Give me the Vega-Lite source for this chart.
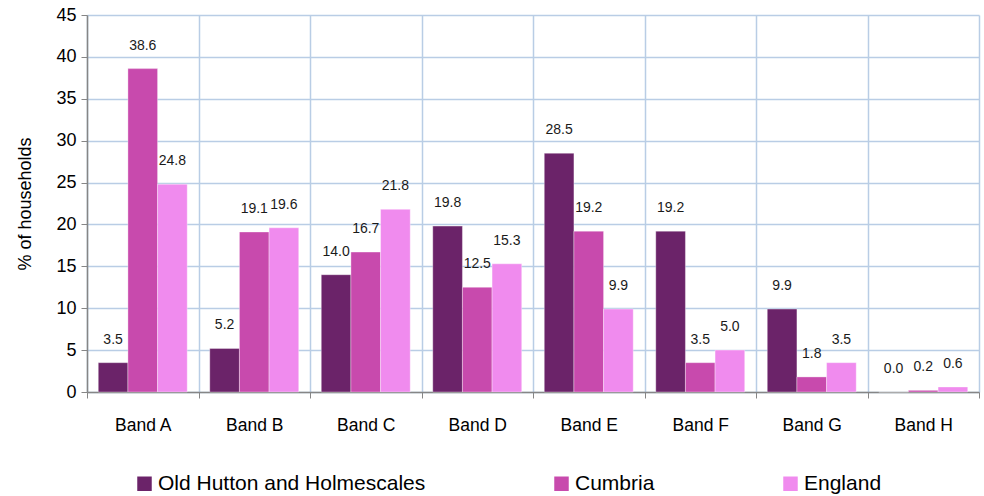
{
  "$schema": "https://vega.github.io/schema/vega-lite/v6.json",
  "width": 892,
  "height": 377,
  "autosize": {"type": "none"},
  "padding": {"left": 87, "top": 15, "right": 5, "bottom": 104},
  "background": "white",
  "config": {
    "font": "Liberation Sans",
    "view": {"stroke": null}
  },
  "data": {
    "values": [
      {"band": "Band A", "area": "Old Hutton and Holmescales", "value": 3.5},
      {"band": "Band A", "area": "Cumbria", "value": 38.6},
      {"band": "Band A", "area": "England", "value": 24.8},
      {"band": "Band B", "area": "Old Hutton and Holmescales", "value": 5.2},
      {"band": "Band B", "area": "Cumbria", "value": 19.1},
      {"band": "Band B", "area": "England", "value": 19.6},
      {"band": "Band C", "area": "Old Hutton and Holmescales", "value": 14.0},
      {"band": "Band C", "area": "Cumbria", "value": 16.7},
      {"band": "Band C", "area": "England", "value": 21.8},
      {"band": "Band D", "area": "Old Hutton and Holmescales", "value": 19.8},
      {"band": "Band D", "area": "Cumbria", "value": 12.5},
      {"band": "Band D", "area": "England", "value": 15.3},
      {"band": "Band E", "area": "Old Hutton and Holmescales", "value": 28.5},
      {"band": "Band E", "area": "Cumbria", "value": 19.2},
      {"band": "Band E", "area": "England", "value": 9.9},
      {"band": "Band F", "area": "Old Hutton and Holmescales", "value": 19.2},
      {"band": "Band F", "area": "Cumbria", "value": 3.5},
      {"band": "Band F", "area": "England", "value": 5.0},
      {"band": "Band G", "area": "Old Hutton and Holmescales", "value": 9.9},
      {"band": "Band G", "area": "Cumbria", "value": 1.8},
      {"band": "Band G", "area": "England", "value": 3.5},
      {"band": "Band H", "area": "Old Hutton and Holmescales", "value": 0.0},
      {"band": "Band H", "area": "Cumbria", "value": 0.2},
      {"band": "Band H", "area": "England", "value": 0.6}
    ]
  },
  "encoding": {
    "x": {
      "field": "band",
      "type": "nominal",
      "sort": null,
      "scale": {"paddingInner": 0, "paddingOuter": 0},
      "axis": {
        "title": null,
        "labelAngle": 0,
        "labelFontSize": 17.5,
        "labelColor": "#000000",
        "labelPadding": 18,
        "tickBand": "extent",
        "tickSize": 6,
        "tickColor": "#868686",
        "domainColor": "#868686",
        "domainWidth": 1.5,
        "grid": true,
        "gridColor": "#b9cde5",
        "gridWidth": 1.5
      }
    },
    "xOffset": {
      "field": "area",
      "type": "nominal",
      "sort": ["Old Hutton and Holmescales", "Cumbria", "England"],
      "scale": {"paddingInner": 0, "paddingOuter": 0.38}
    },
    "y": {
      "field": "value",
      "type": "quantitative",
      "scale": {"domain": [0, 45], "nice": false},
      "axis": {
        "title": "% of households",
        "titleFontSize": 18,
        "titleFontWeight": "normal",
        "titleColor": "#000000",
        "titlePadding": 21,
        "values": [0, 5, 10, 15, 20, 25, 30, 35, 40, 45],
        "labelFontSize": 18,
        "labelColor": "#000000",
        "labelPadding": 5,
        "tickSize": 6,
        "tickColor": "#868686",
        "domainColor": "#868686",
        "domainWidth": 1.5,
        "grid": true,
        "gridColor": "#b9cde5",
        "gridWidth": 1.5
      }
    }
  },
  "layer": [
    {
      "mark": {"type": "bar", "stroke": "#ffffff", "strokeOpacity": 0.35, "strokeWidth": 1},
      "encoding": {
        "color": {
          "field": "area",
          "type": "nominal",
          "sort": ["Old Hutton and Holmescales", "Cumbria", "England"],
          "scale": {
            "domain": ["Old Hutton and Holmescales", "Cumbria", "England"],
            "range": ["#6b2369", "#c84aad", "#f08bee"]
          },
          "legend": {
            "title": null,
            "orient": "none",
            "direction": "horizontal",
            "legendX": 47,
            "legendY": 458,
            "symbolType": "square",
            "symbolSize": 210,
            "symbolStrokeWidth": 0,
            "labelFontSize": 21,
            "labelColor": "#000000",
            "labelOffset": 3,
            "columnPadding": 125,
            "labelLimit": 400
          }
        }
      }
    },
    {
      "mark": {"type": "text", "dy": -23, "baseline": "middle", "fontSize": 14, "color": "#1a1a1a"},
      "encoding": {
        "text": {"field": "value", "type": "quantitative", "format": ".1f"}
      }
    }
  ]
}
